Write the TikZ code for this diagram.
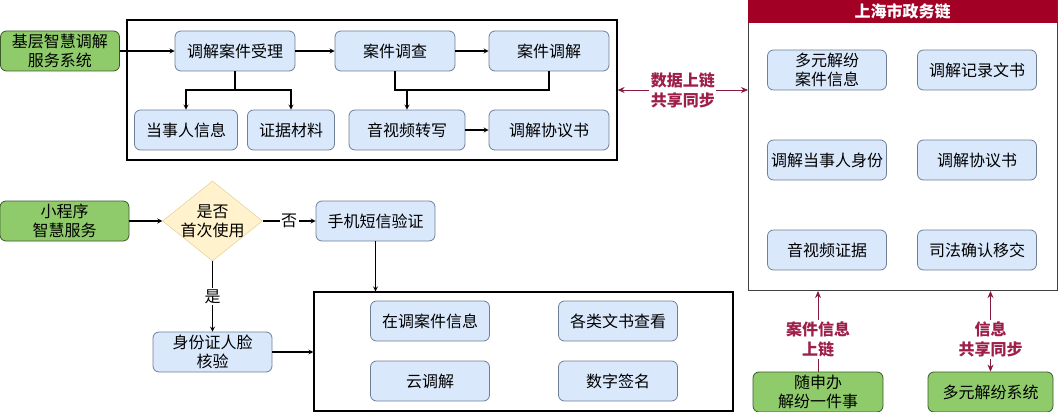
\documentclass[tikz,border=0pt]{standalone}
\usepackage{fontspec}
\setmainfont{Noto Sans CJK SC}
\usepackage{tikz}
\usetikzlibrary{arrows, arrows.meta, shapes.geometric, calc}
\definecolor{boxblue}{HTML}{DAE8FC}
\definecolor{boxline}{HTML}{6F7F96}
\definecolor{leafgreen}{HTML}{8FCB6B}
\definecolor{leafline}{HTML}{3A5A2A}
\definecolor{chainred}{HTML}{A20025}
\definecolor{labelred}{HTML}{9E1F4A}
\definecolor{paleyellow}{HTML}{FFF2CC}
\definecolor{paleline}{HTML}{E0C98A}
\tikzstyle{blk} = [rectangle, rounded corners=6pt, minimum width=120pt, minimum height=40pt, inner sep=2pt, align=center, draw=boxline, fill=boxblue, line width=0.8pt]
\tikzstyle{sys} = [blk, draw=leafline, fill=leafgreen]
\tikzstyle{pane} = [draw=black, line width=1.2pt, inner sep=0pt]
\tikzstyle{arrow} = [line width=1.2pt,->,>=stealth]
\tikzstyle{redline} = [line width=0.9pt, draw=labelred!85!black, >={Stealth[length=7pt,width=6pt]}]
\tikzstyle{tag} = [fill=white, inner sep=1.5pt, align=center]
\tikzstyle{redtag} = [tag, text=labelred, font=\fontsize{16}{20}\selectfont\bfseries]

\begin{document}
\begin{tikzpicture}[x=1pt, y=-1pt, font=\fontsize{16}{19}\selectfont]
\useasboundingbox (0,0) rectangle (1058,412);
% mediation platform
\node (f1) [pane, minimum width=490pt, minimum height=140pt] at (372,90) {};
\node (s1) [sys, minimum width=119pt] at (60,51) {基层智慧调解\\服务系统};
\node (a1) [blk] at (235,51) {调解案件受理};
\node (a2) [blk] at (395,51) {案件调查};
\node (a3) [blk] at (549,51) {案件调解};
\node (b1) [blk, minimum width=103pt] at (186,130) {当事人信息};
\node (b2) [blk, minimum width=87pt] at (291,130) {证据材料};
\node (b3) [blk, minimum width=116pt] at (407,130) {音视频转写};
\node (b4) [blk] at (549,130) {调解协议书};
\coordinate (j1) at (235,90);
\coordinate (j2) at (407,90);
\draw[arrow] (s1) -- (a1);
\draw[arrow] (a1) -- (a2);
\draw[arrow] (a2) -- (a3);
\draw[line width=1.2pt] (a1.south) -- (j1);
\draw[arrow] (j1) -| (b1.north);
\draw[arrow] (j1) -| (b2.north);
\draw[line width=1.2pt] (a2.south) |- (j2) -| (a3.south);
\draw[arrow] (j2) -- (b3.north);
\draw[arrow] (b3) -- (b4);
% chain
\node (ch) [pane, draw=black!75, line width=1pt, minimum width=309pt, minimum height=290pt, anchor=north west] at (748,0) {};
\node (hd) [fill=chainred, text=white, font=\fontsize{16}{19}\selectfont\bfseries, minimum width=309pt, minimum height=23pt, inner sep=0pt, anchor=north west] at (748,0) {上海市政务链};
\node (c1) [blk, minimum width=119pt] at (827,70) {多元解纷\\案件信息};
\node (c2) [blk, minimum width=119pt] at (977,70) {调解记录文书};
\node (c3) [blk, minimum width=119pt] at (827,160) {调解当事人身份};
\node (c4) [blk, minimum width=119pt] at (977,160) {调解协议书};
\node (c5) [blk, minimum width=119pt] at (827,250) {音视频证据};
\node (c6) [blk, minimum width=119pt] at (977,250) {司法确认移交};
\draw[redline, <->] (f1.east) -- (f1.east -| ch.west) node[midway, redtag] (t1) {数据上链\\共享同步};
% mini program
\node (m1) [sys, minimum width=129pt] at (64.5,221) {小程序\\智慧服务};
\node (d1) [diamond, draw=paleline, fill=paleyellow, minimum width=100pt, minimum height=80pt, inner sep=-8pt, align=center] at (212.5,221) {是否\\首次使用};
\node (m2) [blk, minimum width=119pt] at (375.5,221) {手机短信验证};
\node (m4) [blk, minimum width=119pt] at (212.5,352) {身份证人脸\\核验};
\node (f2) [pane, minimum width=419pt, minimum height=119pt] at (523.5,351.5) {};
\node (n1) [blk, minimum width=119pt] at (430,321) {在调案件信息};
\node (n2) [blk, minimum width=119pt] at (618,321) {各类文书查看};
\node (n3) [blk, minimum width=119pt] at (430,381) {云调解};
\node (n4) [blk, minimum width=119pt] at (618,381) {数字签名};
\draw[arrow] (m1) -- (d1);
\draw[arrow] (d1) -- (m2) node[midway, tag] {否};
\draw[arrow] (d1) -- (m4) node[midway, tag] {是};
\draw[arrow] (m2) -- (m2 |- f2.north);
\draw[arrow] (m4) -- (m4 -| f2.west);
% systems below the chain
\node (g1) [sys, minimum width=130pt] at (818,392) {随申办\\解纷一件事};
\node (g2) [sys, minimum width=125pt] at (990.5,392) {多元解纷系统};
\draw[redline, ->] (g1) -- (g1 |- ch.south) node[pos=0.4, redtag] {案件信息\\上链};
\draw[redline, <->] (g2) -- (g2 |- ch.south) node[pos=0.4, redtag] {信息\\共享同步};
\end{tikzpicture}
\end{document}
